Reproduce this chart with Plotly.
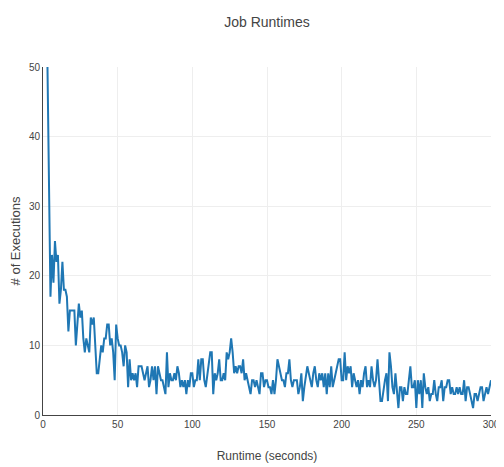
"""Line chart of how many executions fell into each runtime second."""

import plotly.graph_objects as go

# runtime in whole seconds (first recorded runtime is 3 s)
runtime_seconds = list(range(3, 301))

# executions per runtime second in chunks
counts_3_57 = [
    50, 33, 17, 23, 19, 25, 22, 23, 16, 18, 22, 18, 18, 17, 12, 15, 15, 15, 15, 10,
    13, 16, 14, 15, 11, 9, 11, 10, 9, 14, 13, 14, 10, 6, 6, 8, 10, 9, 11, 11,
    13, 13, 10, 11, 9, 5, 13, 11, 10, 10, 9, 7, 10, 9, 4,
]
counts_58_113 = [
    8, 5, 6, 5, 6, 4, 7, 7, 7, 6, 5, 6, 7, 4, 5, 7, 5, 7, 3, 7,
    6, 5, 5, 4, 3, 9, 4, 6, 5, 5, 6, 5, 7, 6, 4, 5, 4, 5, 3, 5,
    4, 6, 6, 4, 5, 5, 8, 5, 8, 8, 5, 4, 6, 7, 9, 9,
]
counts_114_178 = [
    3, 6, 5, 6, 8, 5, 5, 6, 5, 9, 8, 9, 11, 9, 6, 7, 6, 7, 7, 6,
    8, 5, 6, 5, 4, 3, 5, 5, 4, 5, 4, 3, 6, 6, 4, 5, 5, 4, 4, 3,
    5, 3, 5, 8, 7, 6, 5, 5, 4, 6, 6, 8, 5, 4, 5, 5, 5, 3, 4, 6,
    2, 4, 6, 7, 6,
]
counts_179_239 = [
    5, 4, 6, 7, 5, 4, 6, 5, 6, 4, 6, 3, 6, 4, 7, 4, 5, 6, 7, 8,
    8, 5, 5, 9, 5, 7, 6, 7, 4, 6, 5, 4, 5, 3, 5, 4, 6, 7, 4, 5,
    4, 7, 5, 4, 5, 8, 5, 2, 2, 4, 5, 6, 2, 9, 7, 4, 3, 6, 4, 1,
    4,
]
counts_240_300 = [
    4, 2, 4, 3, 3, 5, 7, 4, 4, 5, 1, 5, 3, 5, 1, 6, 4, 3, 4, 2,
    3, 3, 5, 3, 2, 4, 4, 5, 2, 4, 4, 5, 5, 3, 4, 3, 3, 4, 3, 4,
    3, 3, 5, 2, 4, 4, 3, 2, 1, 3, 3, 2, 3, 4, 4, 2, 3, 4, 3, 4,
    5,
]
executions = counts_3_57 + counts_58_113 + counts_114_178 + counts_179_239 + counts_240_300

FONT = "Liberation Sans, Arial, sans-serif"

fig = go.Figure()
fig.add_trace(go.Scatter(
    x=runtime_seconds, y=executions, mode="lines",
    line=dict(color="#1f77b4", width=2),
    showlegend=False,
))

axis_style = dict(
    showgrid=True, gridcolor="#eeeeee", gridwidth=1,
    showline=True, linecolor="#444444", linewidth=1,
    zeroline=False, ticks="", automargin=False,
    tickfont=dict(family=FONT, size=10, color="#444444"),
)

# the page body adds an 8px offset, so margins are shifted to land the plot
# area where the reference has it
fig.update_layout(
    width=504, height=467,
    margin=dict(l=35, r=21, t=59, b=60),
    paper_bgcolor="white", plot_bgcolor="white",
    font=dict(family=FONT, color="#444444"),
    title=dict(text="Job Runtimes", x=0.5, xref="paper", xanchor="center",
               y=0.97, yref="container", yanchor="middle",
               font=dict(size=14, color="#444444")),
    xaxis=dict(range=[0, 300], dtick=50,
               title=dict(text="Runtime (seconds)", font=dict(size=12), standoff=22),
               **axis_style),
    yaxis=dict(range=[0, 50], dtick=10,
               title=dict(text="# of Executions", font=dict(size=13), standoff=24),
               **axis_style),
)

fig.write_html("out.html")
